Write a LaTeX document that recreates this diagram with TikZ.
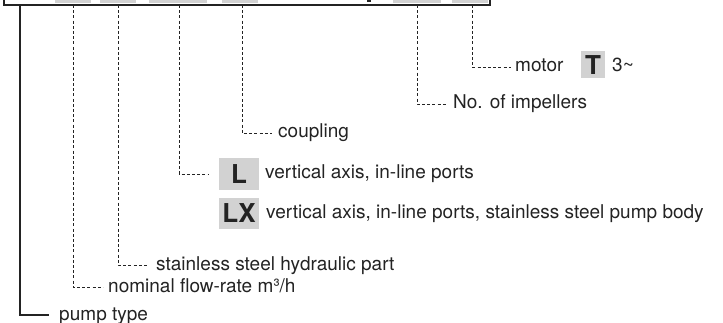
\documentclass[tikz,border=0pt]{standalone}
\usepackage{fontspec}
\setmainfont{TeX Gyre Heros}
\definecolor{codegray}{RGB}{210,210,210}
\definecolor{inkgray}{RGB}{35,35,35}
\tikzset{
	lbl/.style={anchor=west,inner sep=0pt,text height=10pt,text depth=0pt,font=\fontsize{19}{22}\selectfont,text=inkgray},
	codebox/.style={fill=codegray,inner sep=0pt,font=\fontsize{26}{28}\selectfont\bfseries,text=inkgray},
	dashline/.style={draw=inkgray,line width=0.9pt,dash pattern=on 3pt off 2.2pt},
	solidline/.style={draw=inkgray,line width=1.3pt}
}
\begin{document}
\begin{tikzpicture}[x=1pt,y=-1pt]
				\useasboundingbox (0,0) rectangle (723,323);
				\fill[codegray] (55,0) rectangle (91,2.8);
				\fill[codegray] (100,0) rectangle (136,2.8);
				\fill[codegray] (149,0) rectangle (207,2.8);
				\fill[codegray] (222,0) rectangle (258,2.8);
				\fill[codegray] (393,0) rectangle (441,2.8);
				\fill[codegray] (452,0) rectangle (488,2.8);
				\fill[inkgray] (367,0) rectangle (371,2.5);
				\draw[solidline] (4,-3) -- (4,5) -- (490,5) -- (490,-3);
				\coordinate (cpump) at (20,5);
				\coordinate (cflow) at (73,5);
				\coordinate (csteel) at (118,5);
				\coordinate (caxis) at (179,5);
				\coordinate (ccoupling) at (242,5);
				\coordinate (cimpellers) at (417,5);
				\coordinate (cmotor) at (472,5);
				\node[lbl] (pump) at (59,315) {pump type};
				\node[lbl] (flow) at (108,287) {nominal flow-rate m³/h};
				\node[lbl] (steel) at (156,265) {stainless steel hydraulic part};
				\node[codebox,minimum width=40pt,minimum height=32pt] (lbox) at (239,174) {L};
				\node[lbl] (ltext) at (265,174) {vertical axis, in-line ports};
				\node[codebox,minimum width=40pt,minimum height=31pt] (lxbox) at (239,213.5) {LX};
				\node[lbl] (lxtext) at (266,213.5) {vertical axis, in-line ports, stainless steel pump body};
				\node[lbl] (coupling) at (278,133) {coupling};
				\node[lbl] (impellers) at (453,104) {No. of impellers};
				\node[lbl] (motor) at (515,67) {motor};
				\node[codebox,minimum width=24pt,minimum height=27pt] (tbox) at (593,65) {T};
				\node[lbl] (phase) at (612,67) {3\textasciitilde};
				\draw[solidline] (cpump) |- ([xshift=-10pt]pump.west);
				\draw[dashline] (cflow) |- ([xshift=-5pt]flow.west);
				\draw[dashline] (csteel) |- ([xshift=-7pt]steel.west);
				\draw[dashline] (caxis) |- ([xshift=-11pt]lbox.west);
				\draw[dashline] (ccoupling) |- ([xshift=-6pt]coupling.west);
				\draw[dashline] (cimpellers) |- ([xshift=-7pt]impellers.west);
				\draw[dashline] (cmotor) |- ([xshift=-4pt]motor.west);
\end{tikzpicture}
\end{document}
